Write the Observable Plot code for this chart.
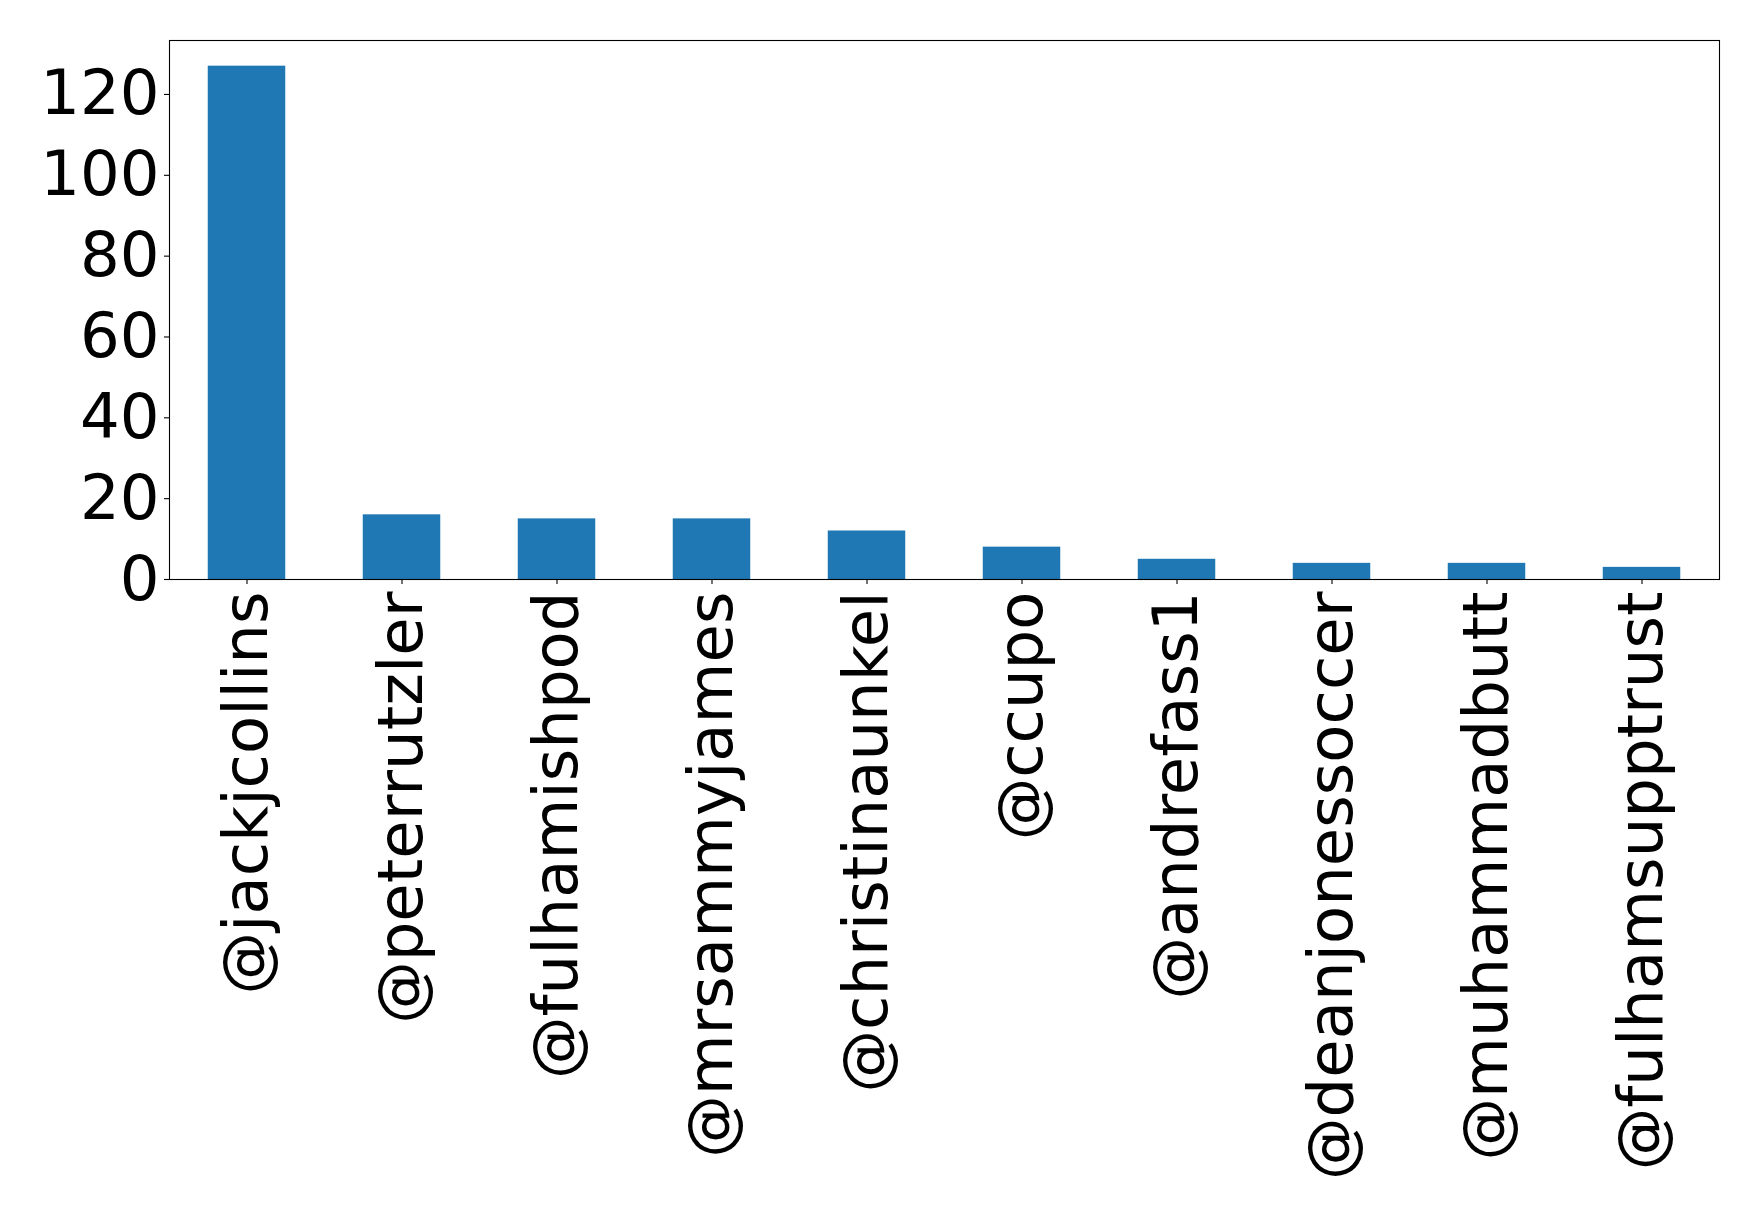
<!DOCTYPE html>
<html>
<head>
<meta charset="utf-8">
<script src="https://cdn.jsdelivr.net/npm/d3@7"></script>
<script src="https://cdn.jsdelivr.net/npm/@observablehq/plot@0.6"></script>
<style>
  html, body { margin: 0; padding: 0; background: white; }
</style>
</head>
<body>
<div id="chart"></div>
<script>
const handles = ["@jackjcollins", "@peterrutzler", "@fulhamishpod", "@mrsammyjames", "@christinaunkel", "@ccupo", "@andrefass1", "@deanjonessoccer", "@muhammadbutt", "@fulhamsupptrust"];
const counts = [127, 16, 15, 15, 12, 8, 5, 4, 4, 3];
const yTicks = [0, 20, 40, 60, 80, 100, 120];

const data = handles.map((h, i) => ({handle: h, count: counts[i]}));

const chart = Plot.plot({
  width: 1758,
  height: 1217,
  marginLeft: 169,
  marginRight: 39,
  marginTop: 40,
  marginBottom: 638,
  style: {fontFamily: "'DejaVu Sans', sans-serif", background: "white", color: "black"},
  x: {domain: handles, paddingInner: 0.5, paddingOuter: 0.25, round: false},
  y: {domain: [0, 127 * 1.05]},
  marks: [
    Plot.barY(data, {x: "handle", y: "count", fill: "#1f77b4"}),
    Plot.frame({stroke: "black", strokeWidth: 1.1}),
    Plot.axisY({ticks: yTicks, tickSize: 5, tickPadding: 5, fontSize: 62.5, label: null, tickFormat: d => String(d), strokeWidth: 1.1}),
    Plot.axisX({tickRotate: -90, tickSize: 5, tickPadding: 7, fontSize: 62.5, label: null, strokeWidth: 1.1})
  ]
});
document.getElementById("chart").appendChild(chart);
</script>
</body>
</html>
